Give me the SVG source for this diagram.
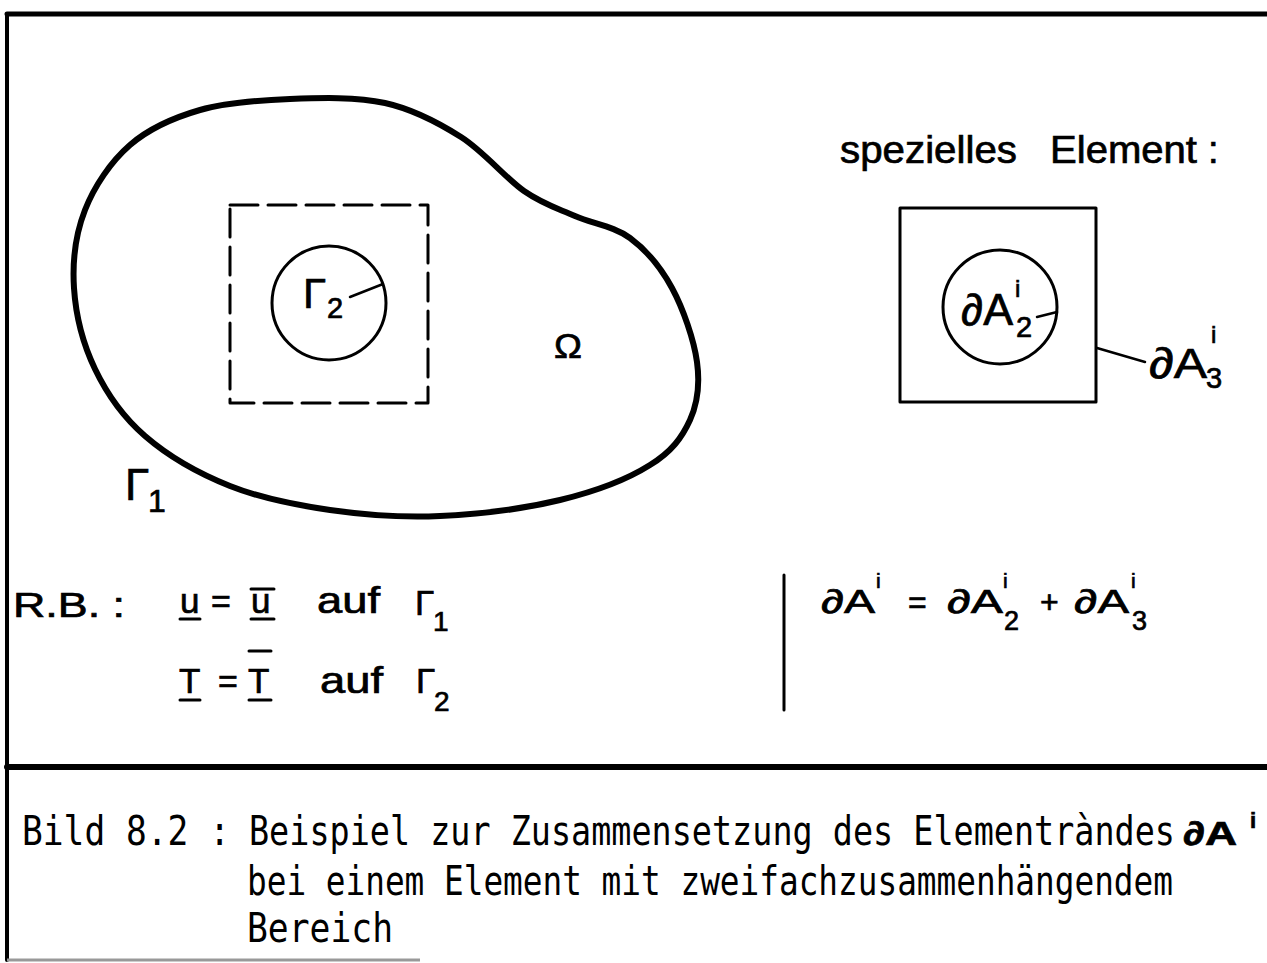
<svg xmlns="http://www.w3.org/2000/svg" width="1267" height="963" viewBox="0 0 1267 963">
<style>
.ln{stroke:#000;fill:none;stroke-linecap:round;stroke-linejoin:round}
.t{font-family:"Liberation Sans","DejaVu Sans",sans-serif;fill:#000;stroke:#000;stroke-width:0.7}
.c{font-family:"DejaVu Sans Mono","Liberation Mono",monospace;fill:#000}
</style>
<rect x="0" y="0" width="1267" height="963" fill="#fff"/>
<g id="frame">
<line class="ln" x1="7" y1="14" x2="1267" y2="14" stroke-width="5"/>
<line class="ln" x1="7" y1="14" x2="7" y2="960" stroke-width="4"/>
<line class="ln" x1="7" y1="767" x2="1267" y2="767" stroke-width="6"/>
<line x1="7" y1="960" x2="420" y2="960" stroke="#999" stroke-width="3"/>
</g>
<g id="domain">
<path class="ln" stroke-width="6" d="M290,99 C320.8,97.8 356.5,96.7 385,103 C413.5,109.3 437.8,122.3 461,137 C484.2,151.7 505,177.8 524,191 C543,204.2 557.3,208.2 575,216 C592.7,223.8 613.8,226 630,238 C646.2,250 660.8,267.3 672,288 C683.2,308.7 694,340 697,362 C700,384 697.8,402.8 690,420 C682.2,437.2 671.7,451.7 650,465 C628.3,478.7 595,491.5 560,500 C525,508.5 478.3,514.3 440,516 C401.7,517.7 365,515 330,510 C295,505 260.8,498.3 230,486 C199.2,473.7 167.5,455.5 145,436 C122.5,416.5 106.8,393.7 95,369 C83.2,344.3 75.7,314.5 74,288 C72.3,261.5 75.7,233.8 85,210 C94.3,186.2 110.8,161.7 130,145 C149.2,128.3 173.3,117.7 200,110 C226.7,102.3 259.2,100.2 290,99 Z"/>
<text class="t" x="554" y="358" font-size="35" textLength="28" lengthAdjust="spacingAndGlyphs">Ω</text>
<text class="t" x="125" y="500" font-size="44">Γ</text>
<text class="t" x="148" y="512" font-size="32">1</text>
</g>
<g id="element-dashed">
<rect class="ln" x="230" y="205" width="198" height="198" stroke-width="3" stroke-dasharray="28 10" stroke-linecap="butt"/>
</g>
<g id="hole">
<circle class="ln" cx="329" cy="303" r="57" stroke-width="3"/>
<text class="t" x="303" y="308" font-size="42">Γ</text>
<text class="t" x="327" y="318" font-size="29">2</text>
</g>
<g id="special-title">
<text class="t" x="840" y="163" font-size="38" textLength="177" lengthAdjust="spacingAndGlyphs">spezielles</text>
<text class="t" x="1050" y="163" font-size="38" textLength="147" lengthAdjust="spacingAndGlyphs">Element</text>
<text class="t" x="1208" y="163" font-size="38">:</text>
</g>
<g id="special-element">
<rect class="ln" x="900" y="208" width="196" height="194" stroke-width="3"/>
<circle class="ln" cx="1000" cy="307" r="57" stroke-width="3"/>
<text class="t" x="961" y="325" font-size="44" textLength="52" lengthAdjust="spacingAndGlyphs">∂A</text>
<text class="t" x="1015" y="297" font-size="24">i</text>
<text class="t" x="1016" y="337" font-size="29">2</text>
<text class="t" x="1149" y="378" font-size="43" textLength="58" lengthAdjust="spacingAndGlyphs">∂A</text>
<text class="t" x="1211" y="343" font-size="24">i</text>
<text class="t" x="1206" y="388" font-size="29">3</text>
</g>
<g id="connectors">
<line class="ln" x1="350" y1="297" x2="383" y2="284" stroke-width="2.5"/>
<line class="ln" x1="1037" y1="317" x2="1057" y2="312" stroke-width="2.5"/>
<line class="ln" x1="1097" y1="348" x2="1145" y2="362" stroke-width="2.5"/>
</g>
<g id="boundary-conditions">
<text class="t" x="13" y="617" font-size="35" textLength="112" lengthAdjust="spacingAndGlyphs">R.B. :</text>
<text class="t" x="180" y="613" font-size="35">u</text>
<line class="ln" x1="180" y1="619" x2="200" y2="619" stroke-width="3"/>
<text class="t" x="211" y="613" font-size="34">=</text>
<text class="t" x="251" y="613" font-size="35">u</text>
<line class="ln" x1="251" y1="619" x2="274" y2="619" stroke-width="3"/>
<line class="ln" x1="251" y1="589" x2="274" y2="589" stroke-width="3"/>
<text class="t" x="317" y="613" font-size="36" textLength="63" lengthAdjust="spacingAndGlyphs">auf</text>
<text class="t" x="415" y="615" font-size="35">Γ</text>
<text class="t" x="433" y="631" font-size="28">1</text>
<text class="t" x="179" y="693" font-size="35">T</text>
<line class="ln" x1="180" y1="700" x2="200" y2="700" stroke-width="3"/>
<text class="t" x="218" y="693" font-size="34">=</text>
<text class="t" x="248" y="693" font-size="35">T</text>
<line class="ln" x1="249" y1="700" x2="271" y2="700" stroke-width="3"/>
<line class="ln" x1="249" y1="651" x2="271" y2="651" stroke-width="3"/>
<text class="t" x="320" y="693" font-size="36" textLength="63" lengthAdjust="spacingAndGlyphs">auf</text>
<text class="t" x="416" y="693" font-size="35">Γ</text>
<text class="t" x="434" y="711" font-size="28">2</text>
</g>
<g id="boundary-sum">
<line class="ln" x1="784" y1="575" x2="784" y2="710" stroke-width="3"/>
<text class="t" x="821" y="613" font-size="33" textLength="54" lengthAdjust="spacingAndGlyphs">∂A</text>
<text class="t" x="876" y="588" font-size="21">i</text>
<text class="t" x="908" y="613" font-size="32">=</text>
<text class="t" x="947" y="613" font-size="33" textLength="56" lengthAdjust="spacingAndGlyphs">∂A</text>
<text class="t" x="1003" y="588" font-size="21">i</text>
<text class="t" x="1004" y="630" font-size="27">2</text>
<text class="t" x="1040" y="613" font-size="32">+</text>
<text class="t" x="1074" y="613" font-size="33" textLength="55" lengthAdjust="spacingAndGlyphs">∂A</text>
<text class="t" x="1131" y="588" font-size="21">i</text>
<text class="t" x="1132" y="630" font-size="27">3</text>
</g>
<g id="caption">
<g transform="translate(0,845) scale(1,1.22)"><text class="c" x="22" y="0" font-size="33" textLength="208" lengthAdjust="spacingAndGlyphs">Bild 8.2 :</text>
<text class="c" x="249" y="0" font-size="33" textLength="926" lengthAdjust="spacingAndGlyphs">Beispiel zur Zusammensetzung des Elementràndes</text></g>
<g transform="translate(0,895) scale(1,1.22)"><text class="c" x="247" y="0" font-size="33" textLength="926" lengthAdjust="spacingAndGlyphs">bei einem Element mit zweifachzusammenhängendem</text></g>
<g transform="translate(0,942) scale(1,1.22)"><text class="c" x="247" y="0" font-size="33" textLength="146" lengthAdjust="spacingAndGlyphs">Bereich</text></g>
<text class="t" x="1183" y="845" font-size="33" font-weight="bold" textLength="54" lengthAdjust="spacingAndGlyphs">∂A</text>
<text class="t" x="1250" y="828" font-size="22" font-weight="bold">i</text>
</g>
</svg>
